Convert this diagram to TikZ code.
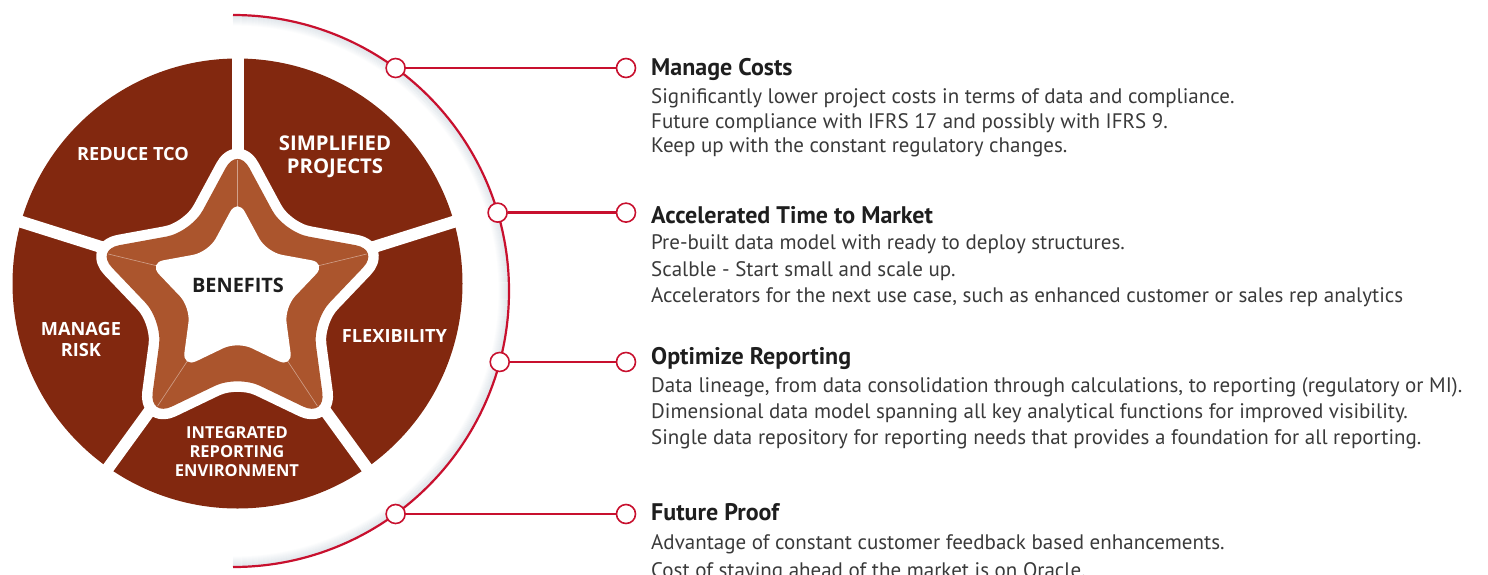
\documentclass[tikz,border=0pt]{standalone}
\usepackage{fontspec}
\setmainfont{PT Sans}
\newfontfamily\lblfont{Open Sans}
\usetikzlibrary{calc}
\definecolor{piered}{HTML}{82280F}
\definecolor{copper}{HTML}{AB552D}
\definecolor{linered}{HTML}{C8102E}
\definecolor{headc}{HTML}{1E1E1E}
\definecolor{bodyc}{HTML}{3A3A3A}
\definecolor{arcshadow}{HTML}{C9D3DC}
\begin{document}
\begin{tikzpicture}[x=1pt,y=-1pt,
  starpath/.style 2 args={insert path={($(90:#1)!0.5!(126:#2)$) -- (126:#2) -- (162:#1) -- (198:#2) -- (234:#1) -- (270:#2) -- (306:#1) -- (342:#2) -- (18:#1) -- (54:#2) -- (90:#1) -- cycle}},
  gapline/.style={draw=white, line width=12pt},
  bevel/.style={draw=copper!55!white, line width=0.6pt},
  pielabel/.style={font=\lblfont\bfseries\fontsize{18.2}{21}\selectfont, text=white, align=center, inner sep=0pt},
  dot/.style={circle, draw=linered, fill=white, line width=1.6pt, minimum size=19pt, inner sep=0pt},
  conn/.style={draw=linered, line width=2.4pt},
  arcline/.style={draw=linered, line width=2.2pt},
  head/.style={anchor=base west, inner sep=0pt, font=\bfseries\fontsize{24}{28}\selectfont, text=headc},
  body/.style={anchor=base west, inner sep=0pt, font=\fontsize{21}{24}\selectfont, text=bodyc},
]
\useasboundingbox (0,0) rectangle (1488,574);
\clip (0,0) rectangle (1488,574);

% pie
\fill[piered] (237.5,283.5) circle[radius=225pt];
\begin{scope}[shift={(237.5,290)}]
  \foreach \a in {90,17.5,-54,-126,162.5} \draw[gapline] (0,0) -- (\a:240pt);
\end{scope}

% star outline, copper star, inner star
\begin{scope}[shift={(237.5,296)}]
  \path[fill=white, draw=white, line width=21pt, line join=round, rounded corners=25pt, starpath={150pt}{79pt}];
  \fill[copper, rounded corners=25pt, starpath={150pt}{79pt}];
\end{scope}
\foreach \a in {90,162,234,306,18}
  \draw[bevel] ($(237.5,296)+(\a:136pt)$) -- ($(237.5,292)+(\a:85pt)$);
\begin{scope}[shift={(237.5,292)}]
  \fill[white, rounded corners=15.6pt, starpath={93.75pt}{49.4pt}];
\end{scope}

% pie labels
\node[pielabel] (tco) at (133,154) {REDUCE TCO};
\node[pielabel, font=\lblfont\bfseries\fontsize{20.3}{22.5}\selectfont] (simp) at (335,157) {SIMPLIFIED\\PROJECTS};
\node[pielabel] (flex) at (394.5,336) {FLEXIBILITY};
\node[pielabel] (risk) at (81,339) {MANAGE\\RISK};
\node[pielabel, font=\lblfont\bfseries\fontsize{16.5}{19}\selectfont] (irep) at (237,452) {INTEGRATED\\REPORTING\\ENVIRONMENT};
\node[font=\lblfont\bfseries\fontsize{19.9}{22}\selectfont, text=headc, inner sep=0pt] (ben) at (238,285) {BENEFITS};

% outer arc with soft shadow
\foreach \k [evaluate=\k as \op using 0.5*(11-\k)/10, evaluate=\k as \rr using 276-\k] in {1,...,10}
  \draw[draw=arcshadow, line width=1.2pt, opacity=\op] (233,{15+\k}) arc[start angle=90, end angle=-90, radius=\rr pt];
\draw[arcline] (233,15) arc[start angle=90, end angle=-90, radius=276pt];

% connectors
\coordinate (rx) at (626,0);
\node[dot] (c1) at ($(233,291)+(53.9:276pt)$) {};
\node[dot] (c2) at ($(233,291)+(16.5:276pt)$) {};
\node[dot] (c3) at ($(233,291)+(-14.9:276pt)$) {};
\node[dot] (c4) at ($(233,291)+(-53.9:276pt)$) {};
\node[dot] (d1) at (c1 -| rx) {};
\node[dot] (d2) at (c2 -| rx) {};
\node[dot] (d3) at (c3 -| rx) {};
\node[dot] (d4) at (c4 -| rx) {};
\draw[conn] (c1) -- (d1);
\draw[conn] (c2) -- (d2);
\draw[conn] (c3) -- (d3);
\draw[conn] (c4) -- (d4);

% texts
\node[head] (h1) at (651,75) {Manage Costs};
\node[body] (t11) at (651,103) {Significantly lower project costs in terms of data and compliance.};
\node[body] (t12) at (651,128) {Future compliance with IFRS 17 and possibly with IFRS 9.};
\node[body] (t13) at (651,152) {Keep up with the constant regulatory changes.};

\node[head] (h2) at (651,223) {Accelerated Time to Market};
\node[body] (t21) at (651,249) {Pre-built data model with ready to deploy structures.};
\node[body] (t22) at (651,276) {Scalble - Start small and scale up.};
\node[body] (t23) at (651,302) {Accelerators for the next use case, such as enhanced customer or sales rep analytics};

\node[head] (h3) at (651,364) {Optimize Reporting};
\node[body] (t31) at (651,392) {Data lineage, from data consolidation through calculations, to reporting (regulatory or MI).};
\node[body] (t32) at (651,418) {Dimensional data model spanning all key analytical functions for improved visibility.};
\node[body] (t33) at (651,444) {Single data repository for reporting needs that provides a foundation for all reporting.};

\node[head] (h4) at (651,520) {Future Proof};
\node[body] (t41) at (651,549) {Advantage of constant customer feedback based enhancements.};
\node[body] (t42) at (651,577) {Cost of staying ahead of the market is on Oracle.};
\end{tikzpicture}
\end{document}
